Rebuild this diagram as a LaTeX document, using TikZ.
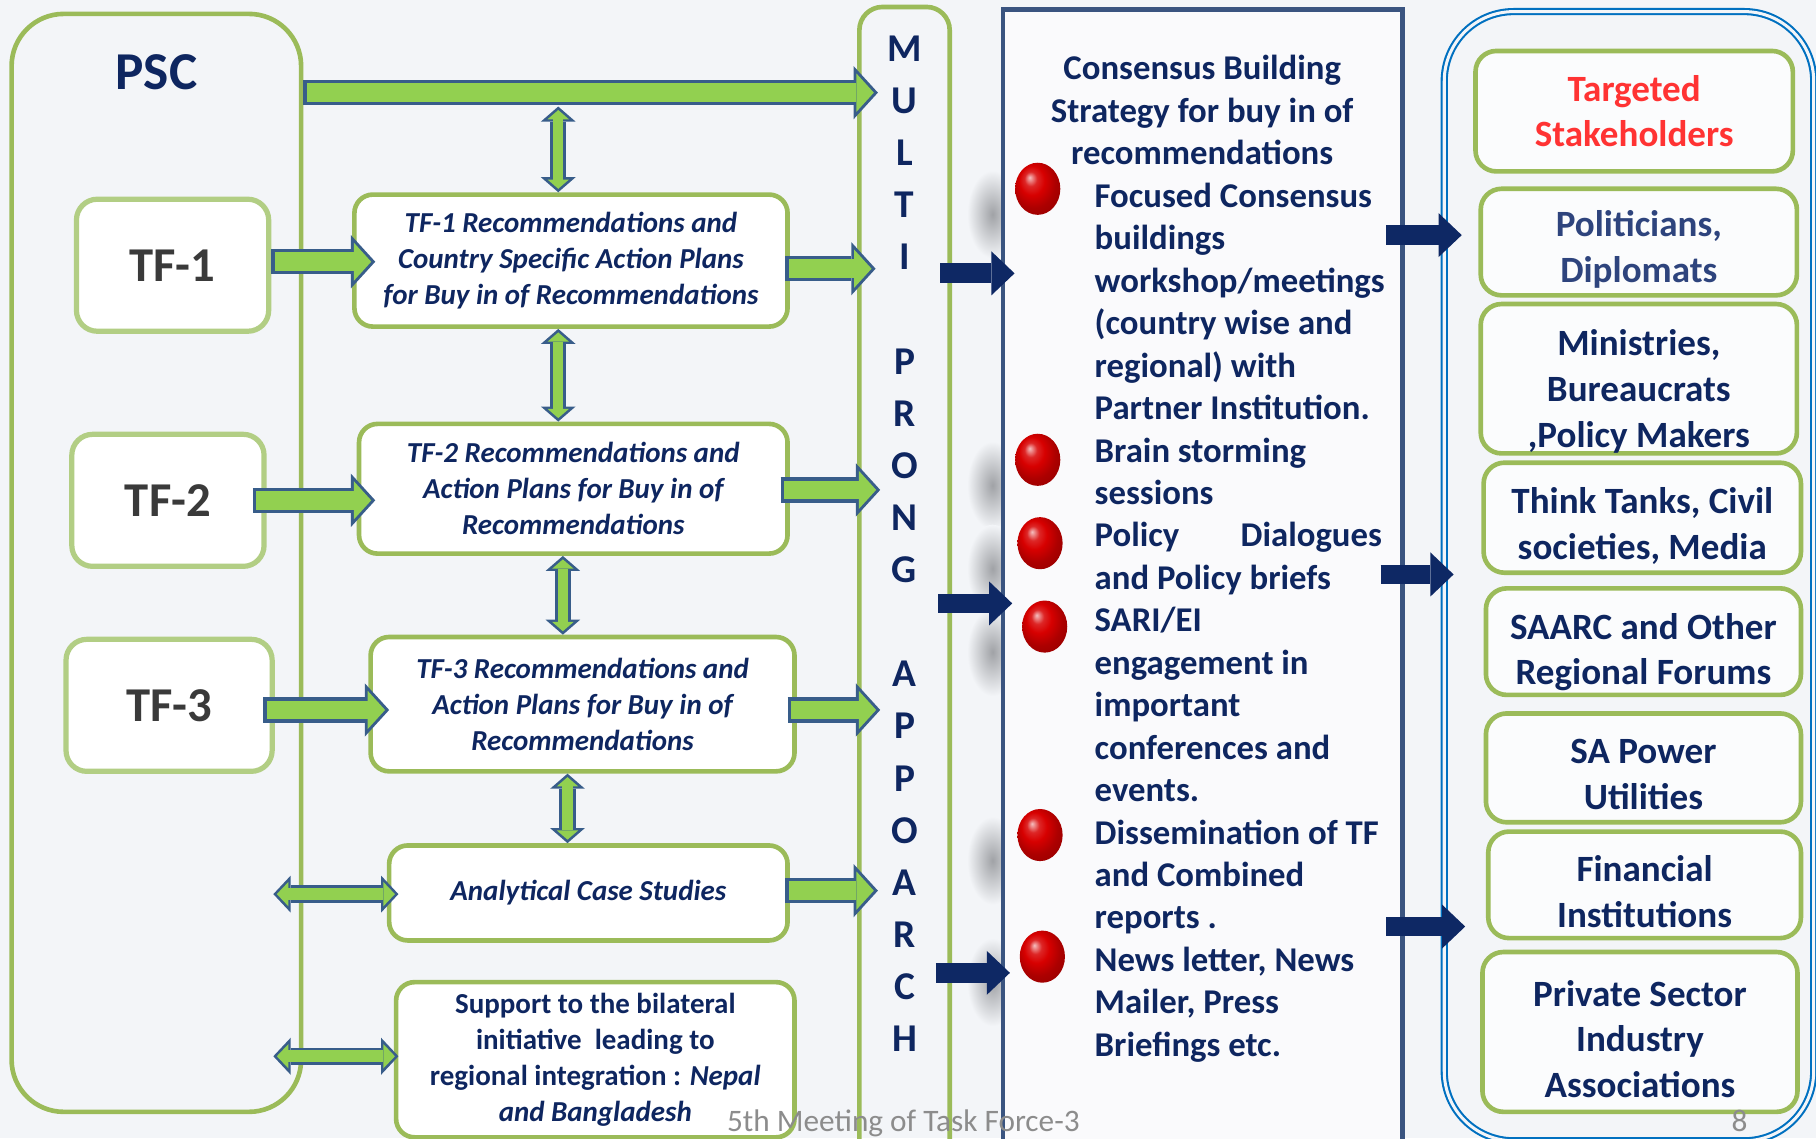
\documentclass[tikz,border=0pt]{standalone}
\usepackage{fontspec}
\setmainfont{Carlito}
\usetikzlibrary{arrows.meta,shapes.geometric}

\definecolor{bgcol}{RGB}{243,245,248}
\definecolor{boxgreen}{RGB}{155,187,89}
\definecolor{tfgreen}{RGB}{178,206,132}
\definecolor{arrgreen}{RGB}{146,208,80}
\definecolor{arrline}{RGB}{56,93,138}
\definecolor{navytxt}{RGB}{14,38,96}
\definecolor{navyarr}{RGB}{14,40,100}
\definecolor{consline}{RGB}{58,84,128}
\definecolor{stakeblue}{RGB}{0,112,192}
\definecolor{redtxt}{RGB}{255,51,51}
\definecolor{slatetxt}{RGB}{46,68,125}
\definecolor{tfgray}{RGB}{58,58,58}
\definecolor{ballred}{RGB}{215,0,0}
\definecolor{shadowgray}{RGB}{160,162,166}
\definecolor{footgray}{RGB}{140,140,140}

\pgfdeclareradialshading{glossred}{\pgfpoint{-9bp}{11bp}}{color(0bp)=(white!75!ballred); color(7bp)=(ballred!85!white); color(14bp)=(ballred); color(24bp)=(ballred!80!black); color(50bp)=(ballred!55!black)}

\tikzset{
  bigframe/.style={draw=boxgreen, line width=4pt, inner sep=0pt},
  tfbox/.style={draw=tfgreen, line width=4.5pt, fill=white, rounded corners=18pt, inner sep=0pt, minimum height=114pt, text=tfgray, font=\fontsize{42}{50}\selectfont\bfseries},
  recbox/.style={draw=boxgreen, line width=4pt, fill=white, rounded corners=16pt, inner sep=0pt, align=center, text=navytxt, font=\fontsize{25}{31}\selectfont\bfseries\itshape},
  stakebox/.style={draw=boxgreen, line width=4pt, fill=white!70!bgcol, rounded corners=18pt, inner sep=0pt},
  staketext/.style={inner sep=0pt, align=center, text=navytxt, font=\fontsize{32}{39.5}\selectfont\bfseries},
  mpaletter/.style={text=navytxt, inner sep=0pt, font=\fontsize{34}{40}\selectfont\bfseries},
  listline/.style={anchor=base west, inner sep=0pt, text=navytxt, font=\fontsize{30}{36}\selectfont\bfseries},
  redball/.style={ellipse, minimum width=39pt, minimum height=45pt, inner sep=0pt, shading=glossred},
  bigarrow/.style={draw=arrline, line width=22pt, -{Triangle[width=46pt,length=21pt,line width'=0pt]},
    postaction={draw=arrgreen, line width=16pt, -{Triangle[width=33pt,length=15pt,line width'=0pt]}, shorten >=3.5pt, shorten <=3pt}},
  stemarrow/.style={draw=arrline, line width=14pt, {Triangle[width=30pt,length=13pt,line width'=0pt]}-{Triangle[width=30pt,length=13pt,line width'=0pt]},
    postaction={draw=arrgreen, line width=9pt, {Triangle[width=18.5pt,length=8pt,line width'=0pt]}-{Triangle[width=18.5pt,length=8pt,line width'=0pt]}, shorten >=3pt, shorten <=3pt}},
  sidearrow/.style={draw=arrline, line width=15pt, {Triangle[width=32pt,length=15pt,line width'=0pt]}-{Triangle[width=32pt,length=15pt,line width'=0pt]},
    postaction={draw=arrgreen, line width=10pt, {Triangle[width=21pt,length=10pt,line width'=0pt]}-{Triangle[width=21pt,length=10pt,line width'=0pt]}, shorten >=3pt, shorten <=3pt}},
  navyarrow/.style={draw=navyarr, line width=17pt, -{Triangle[width=38pt,length=20pt,line width'=0pt]}}
}

\begin{document}
\begin{tikzpicture}[x=1pt,y=1pt,yscale=-1,xscale=1]

        \useasboundingbox (0,0) rectangle (1568,983);
        \fill[bgcol] (0,0) rectangle (1568,983);

        %Shape: PSC frame
        \node[bigframe, rounded corners=45pt, minimum width=250pt, minimum height=948pt] (psc) at (135,486) {};
        \node[text=navytxt, font=\fontsize{46}{50}\selectfont\bfseries] (pscT) at (135,62) {PSC};
        %Shape: multi prong column
        \node[bigframe, rounded corners=20pt, minimum width=78pt, minimum height=1004pt] (mpa) at (781,508) {};
        %Shape: soft shadows of the bullets
        \foreach \y in {185,419,491,563,743,848}
          \shade[inner color=shadowgray, outer color=bgcol] (857,\y) ellipse (22 and 38);
        %Shape: consensus box
        \node[draw=consline, line width=4pt, fill=white!55!bgcol, inner sep=0pt, minimum width=345pt, minimum height=1002pt] (cons) at (1038.5,509) {};
        %Shape: stakeholder frame
        \node[draw=stakeblue, line width=1.8pt, double=bgcol, double distance=2.6pt, rounded corners=60pt, inner sep=0pt, minimum width=319pt, minimum height=975pt] (stake) at (1406.5,497.5) {};

        %Shape: task force boxes
        \node[tfbox, minimum width=166pt] (tf1) at (149,229) {TF-1};
        \node[tfbox, minimum width=166pt] (tf2) at (145,432) {TF-2};
        \node[tfbox, minimum width=178pt] (tf3) at (146,609) {TF-3};

        %Shape: recommendation boxes
        \node[recbox, minimum width=374pt, minimum height=114pt] (rec1) at (493,225) {TF-1 Recommendations and\\Country Specific Action Plans\\for Buy in of Recommendations};
        \node[recbox, minimum width=370pt, minimum height=112pt] (rec2) at (495,422) {TF-2 Recommendations and\\Action Plans for Buy in of\\Recommendations};
        \node[recbox, minimum width=366pt, minimum height=116pt] (rec3) at (503,608) {TF-3 Recommendations and\\Action Plans for Buy in of\\Recommendations};
        \node[recbox, minimum width=344pt, minimum height=82pt] (cases) at (508,771) {Analytical Case Studies};
        \node[recbox, font=\fontsize{25}{31}\selectfont\bfseries, minimum width=344pt, minimum height=134pt] (support) at (514,915) {Support to the bilateral\\initiative\ \ leading to\\regional integration : \textit{Nepal}\\\textit{and Bangladesh}};

        %Shape: stakeholder boxes
        \node[stakebox, minimum width=274pt, minimum height=104pt] (sh1) at (1411,96) {};
        \node[stakebox, minimum width=273pt, minimum height=92pt] (sh2) at (1415,209) {};
        \node[stakebox, minimum width=273pt, minimum height=129pt] (sh3) at (1415,327) {};
        \node[stakebox, minimum width=274pt, minimum height=95pt] (sh4) at (1418,447) {};
        \node[stakebox, minimum width=272pt, minimum height=92pt] (sh5) at (1419,554) {};
        \node[stakebox, minimum width=272pt, minimum height=94pt] (sh6) at (1419,663) {};
        \node[stakebox, minimum width=270pt, minimum height=92pt] (sh7) at (1420,764) {};
        \node[stakebox, minimum width=272pt, minimum height=138pt] (sh8) at (1416,891) {};

        % Text Node: stakeholders
        \node[staketext, text=redtxt] (sh1T) at (1411,96) {Targeted\\Stakeholders};
        \node[staketext, text=slatetxt] (sh2T) at (1415,215) {Politicians,\\Diplomats};
        \node[staketext] (sh3T) at (1415,338) {Ministries,\\Bureaucrats\\,Policy Makers};
        \node[staketext] (sh4T) at (1418,454) {Think Tanks, Civil\\societies, Media};
        \node[staketext] (sh5T) at (1419,563) {SAARC and Other\\Regional Forums};
        \node[staketext] (sh6T) at (1419,669) {SA Power\\Utilities};
        \node[staketext] (sh7T) at (1420,770) {Financial\\Institutions};
        \node[staketext] (sh8T) at (1416,897) {Private Sector\\Industry\\Associations};

        % Text Node: multi prong approach
        \foreach \ch [count=\i] in {M,U,L,T,I,{},P,R,O,N,G,{},A,P,P,O,A,R,C,H}
          \node[mpaletter] (m\i) at (781,42+45*\i-45) {\ch};

        % Text Node: consensus building list
        \foreach \ln [count=\i] in {Consensus Building,Strategy for buy in of,recommendations}
          \node[listline, anchor=base] (title\i) at (1038,69+36.65*\i-36.65) {\ln};
        \foreach \ln [count=\i from 0] in {Focused Consensus,buildings,workshop/meetings,{(country wise and},{regional) with},Partner Institution.,Brain storming,sessions,{\makebox[248pt][s]{Policy Dialogues}},and Policy briefs,SARI/EI,engagement in,important,conferences and,events.,Dissemination of TF,and Combined,reports .,{News letter, News},{Mailer, Press},Briefings etc.}
          \node[listline] (line\i) at (945,179+36.65*\i) {\ln};

        %Shape: bullets
        \node[redball] (b1) at (896,163) {};
        \node[redball] (b2) at (896,397) {};
        \node[redball] (b3) at (898,469) {};
        \node[redball] (b4) at (902,541) {};
        \node[redball] (b5) at (898,721) {};
        \node[redball] (b6) at (900,826) {};

        %Straight Lines: green block arrows
        \coordinate (bar) at (482,92);
        \draw[bigarrow] (psc.east |- 0,80) -- ([xshift=18pt]mpa.west |- 0,80);
        \draw[bigarrow] (tf1.east |- 0,226) -- ([xshift=20pt]rec1.west |- 0,226);
        \draw[bigarrow] ([xshift=-12pt]tf2.east |- 0,432) -- ([xshift=16pt]rec2.west |- 0,432);
        \draw[bigarrow] ([xshift=-10pt]tf3.east |- 0,613) -- ([xshift=18pt]rec3.west |- 0,613);
        \draw[bigarrow] ([xshift=-4pt]rec1.east |- 0,232) -- ([xshift=16pt]mpa.west |- 0,232);
        \draw[bigarrow] ([xshift=-8pt]rec2.east |- 0,423) -- ([xshift=20pt]mpa.west |- 0,423);
        \draw[bigarrow] ([xshift=-8pt]rec3.east |- 0,613) -- ([xshift=20pt]mpa.west |- 0,613);
        \draw[bigarrow] ([xshift=-4pt]cases.east |- 0,769) -- ([xshift=18pt]mpa.west |- 0,769);
        \draw[stemarrow] (bar) -- (rec1.north -| bar);
        \draw[stemarrow] (rec1.south -| 482,0) -- (rec2.north -| 482,0);
        \draw[stemarrow] (rec2.south -| 486,0) -- (rec3.north -| 486,0);
        \draw[stemarrow] (rec3.south -| 490,0) -- (cases.north -| 490,0);
        \draw[sidearrow] ([xshift=-26pt]psc.east |- 0,772) -- ([xshift=10pt]cases.west |- 0,772);
        \draw[sidearrow] ([xshift=-26pt]psc.east |- 0,912) -- ([xshift=4pt]support.west |- 0,912);

        %Straight Lines: navy block arrows
        \draw[navyarrow] ([xshift=-10pt]mpa.east |- 0,236) -- ([xshift=12pt]cons.west |- 0,236);
        \draw[navyarrow] ([xshift=-12pt]mpa.east |- 0,521) -- ([xshift=10pt]cons.west |- 0,521);
        \draw[navyarrow] ([xshift=-14pt]mpa.east |- 0,840) -- ([xshift=8pt]cons.west |- 0,840);
        \draw[navyarrow] ([xshift=-16pt]cons.east |- 0,203) -- ([xshift=16pt]stake.west |- 0,203);
        \draw[navyarrow] ([xshift=-21pt]cons.east |- 0,496) -- ([xshift=9pt]stake.west |- 0,496);
        \draw[navyarrow] ([xshift=-16pt]cons.east |- 0,800) -- ([xshift=19pt]stake.west |- 0,800);

        % Text Node: footer
        \node[anchor=base, inner sep=0pt, text=footgray, font=\fontsize{27}{30}\selectfont] (foot) at (780,977) {5th Meeting of Task Force-3};
        \node[anchor=base, inner sep=0pt, text=footgray, font=\fontsize{27}{30}\selectfont] (page) at (1502,977) {8};

\end{tikzpicture}
\end{document}
